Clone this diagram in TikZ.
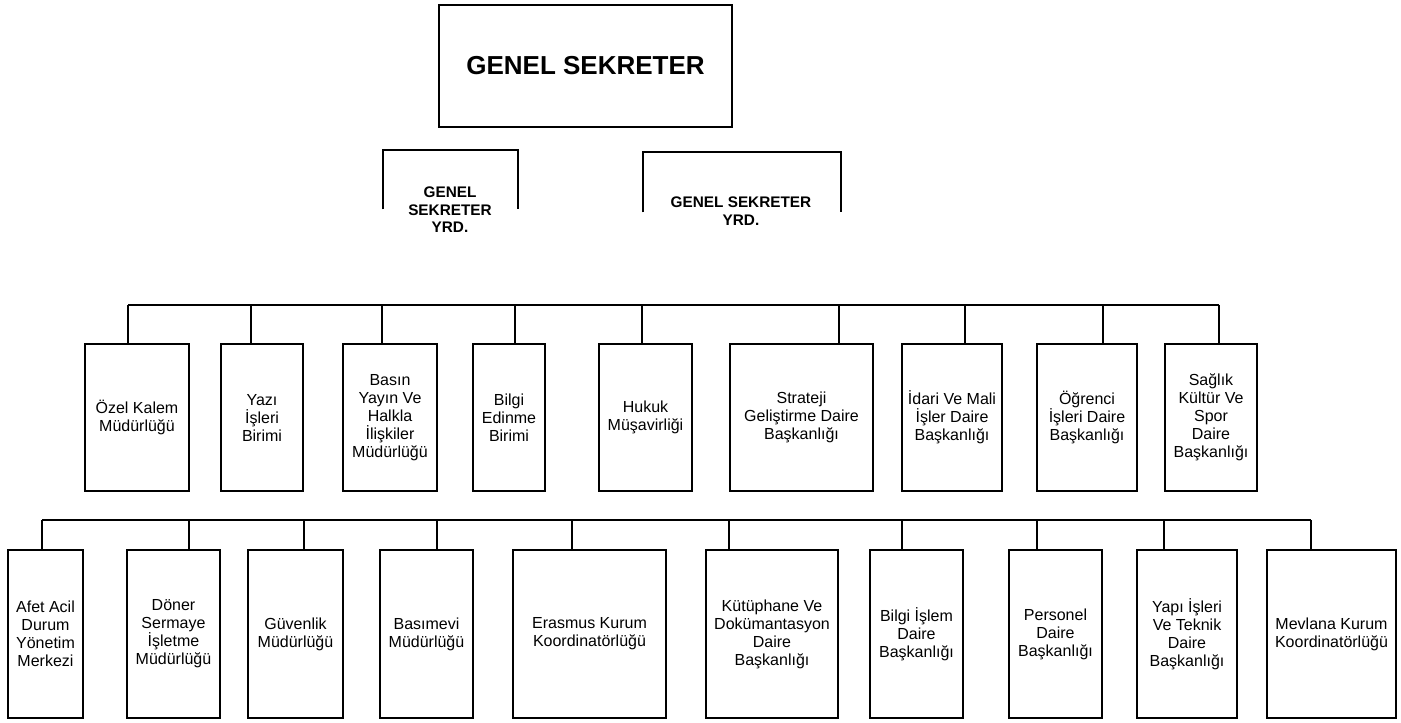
\documentclass[tikz,border=0pt]{standalone}
\usepackage{fontspec}
\setmainfont{Liberation Sans}

\tikzset{every picture/.style={line width=0.75pt}}
\tikzset{
  unitbox/.style={draw, line width=1.5pt, anchor=north, align=center, inner sep=1pt,
    font=\fontsize{12}{13.5}\selectfont},
  busline/.style={line width=1.5pt},
  yrdtext/.style={align=center, font=\fontsize{11.5}{13.2}\selectfont\bfseries},
}

\begin{document}
\begin{tikzpicture}[x=0.75pt,y=0.75pt,yscale=-1,xscale=1]
\useasboundingbox (0,0) rectangle (1401,723);

% Genel Sekreter
\node[draw, line width=1.5pt, minimum width=293*0.75pt, minimum height=122*0.75pt, font=\fontsize{19.5}{22}\selectfont\bfseries] (gs) at (585.5,66) {GENEL SEKRETER};

% Yardimci kutulari (alti acik)
\node[minimum width=134*0.75pt, minimum height=58*0.75pt, inner sep=0pt] (yrdL) at (450,180) {};
\draw[line width=1.5pt] (yrdL.south west) |- (yrdL.north east) -- (yrdL.south east);
\node[minimum width=197*0.75pt, minimum height=59*0.75pt, inner sep=0pt] (yrdR) at (741.5,182.5) {};
\draw[line width=1.5pt] (yrdR.south west) |- (yrdR.north east) -- (yrdR.south east);
% Text Node
\node[yrdtext] (yrdLtext) at (450,210) {GENEL\\SEKRETER\\YRD.};
% Text Node
\node[yrdtext] (yrdRtext) at (741,211) {GENEL SEKRETER\\YRD.};

% Birinci sira
\node[unitbox, minimum width=104*0.75pt, minimum height=147*0.75pt] (o1) at (137,343) {Özel Kalem\\Müdürlüğü};
\node[unitbox, minimum width=82*0.75pt, minimum height=147*0.75pt] (o2) at (262,343) {Yazı\\İşleri\\Birimi};
\node[unitbox, minimum width=94*0.75pt, minimum height=147*0.75pt] (o3) at (390,343) {Basın\\Yayın Ve\\Halkla\\İlişkiler\\Müdürlüğü};
\node[unitbox, minimum width=72*0.75pt, minimum height=147*0.75pt] (o4) at (509,343) {Bilgi\\Edinme\\Birimi};
\node[unitbox, minimum width=93*0.75pt, minimum height=147*0.75pt] (o5) at (645.5,343) {Hukuk\\Müşavirliği};
\node[unitbox, minimum width=143*0.75pt, minimum height=147*0.75pt] (o6) at (801.5,343) {Strateji\\Geliştirme Daire\\Başkanlığı};
\node[unitbox, minimum width=100*0.75pt, minimum height=147*0.75pt] (o7) at (952,343) {İdari Ve Mali\\İşler Daire\\Başkanlığı};
\node[unitbox, minimum width=100*0.75pt, minimum height=147*0.75pt] (o8) at (1087,343) {Öğrenci\\İşleri Daire\\Başkanlığı};
\node[unitbox, minimum width=92*0.75pt, minimum height=147*0.75pt] (o9) at (1211,343) {Sağlık\\Kültür Ve\\Spor\\Daire\\Başkanlığı};

% Birinci sira baglanti hatti
\coordinate (a1) at (128,305);
\coordinate (a2) at (251,305);
\coordinate (a3) at (382,305);
\coordinate (a4) at (515,305);
\coordinate (a5) at (642,305);
\coordinate (a6) at (839,305);
\coordinate (a7) at (965,305);
\coordinate (a8) at (1103,305);
\coordinate (a9) at (1219,305);
\draw[busline] (a1) -- (a9);
\draw[busline] (a1) -- (a1 |- o1.north);
\draw[busline] (a2) -- (a2 |- o2.north);
\draw[busline] (a3) -- (a3 |- o3.north);
\draw[busline] (a4) -- (a4 |- o4.north);
\draw[busline] (a5) -- (a5 |- o5.north);
\draw[busline] (a6) -- (a6 |- o6.north);
\draw[busline] (a7) -- (a7 |- o7.north);
\draw[busline] (a8) -- (a8 |- o8.north);
\draw[busline] (a9) -- (a9 |- o9.north);

% Ikinci sira
\node[unitbox, minimum width=75*0.75pt, minimum height=168*0.75pt] (p1) at (45.5,549) {Afet Acil\\Durum\\Yönetim\\Merkezi};
\node[unitbox, minimum width=93*0.75pt, minimum height=168*0.75pt] (p2) at (173.5,549) {Döner\\Sermaye\\İşletme\\Müdürlüğü};
\node[unitbox, minimum width=95*0.75pt, minimum height=168*0.75pt] (p3) at (295.5,549) {Güvenlik\\Müdürlüğü};
\node[unitbox, minimum width=93*0.75pt, minimum height=168*0.75pt] (p4) at (426.5,549) {Basımevi\\Müdürlüğü};
\node[unitbox, minimum width=153*0.75pt, minimum height=168*0.75pt] (p5) at (589.5,549) {Erasmus Kurum\\Koordinatörlüğü};
\node[unitbox, minimum width=132*0.75pt, minimum height=168*0.75pt] (p6) at (772,549) {Kütüphane Ve\\Dokümantasyon\\Daire\\Başkanlığı};
\node[unitbox, minimum width=93*0.75pt, minimum height=168*0.75pt] (p7) at (916.5,549) {Bilgi İşlem\\Daire\\Başkanlığı};
\node[unitbox, minimum width=93*0.75pt, minimum height=168*0.75pt] (p8) at (1055.5,549) {Personel\\Daire\\Başkanlığı};
\node[unitbox, minimum width=100*0.75pt, minimum height=168*0.75pt] (p9) at (1187,549) {Yapı İşleri\\Ve Teknik\\Daire\\Başkanlığı};
\node[unitbox, minimum width=129*0.75pt, minimum height=168*0.75pt] (p10) at (1331.5,549) {Mevlana Kurum\\Koordinatörlüğü};

% Ikinci sira baglanti hatti
\coordinate (b1) at (42,520);
\coordinate (b2) at (189,520);
\coordinate (b3) at (304,520);
\coordinate (b4) at (437,520);
\coordinate (b5) at (572,520);
\coordinate (b6) at (729,520);
\coordinate (b7) at (902,520);
\coordinate (b8) at (1037,520);
\coordinate (b9) at (1164,520);
\coordinate (b10) at (1311,520);
\draw[busline] (b1) -- (b10);
\draw[busline] (b1) -- (b1 |- p1.north);
\draw[busline] (b2) -- (b2 |- p2.north);
\draw[busline] (b3) -- (b3 |- p3.north);
\draw[busline] (b4) -- (b4 |- p4.north);
\draw[busline] (b5) -- (b5 |- p5.north);
\draw[busline] (b6) -- (b6 |- p6.north);
\draw[busline] (b7) -- (b7 |- p7.north);
\draw[busline] (b8) -- (b8 |- p8.north);
\draw[busline] (b9) -- (b9 |- p9.north);
\draw[busline] (b10) -- (b10 |- p10.north);

\end{tikzpicture}
\end{document}
